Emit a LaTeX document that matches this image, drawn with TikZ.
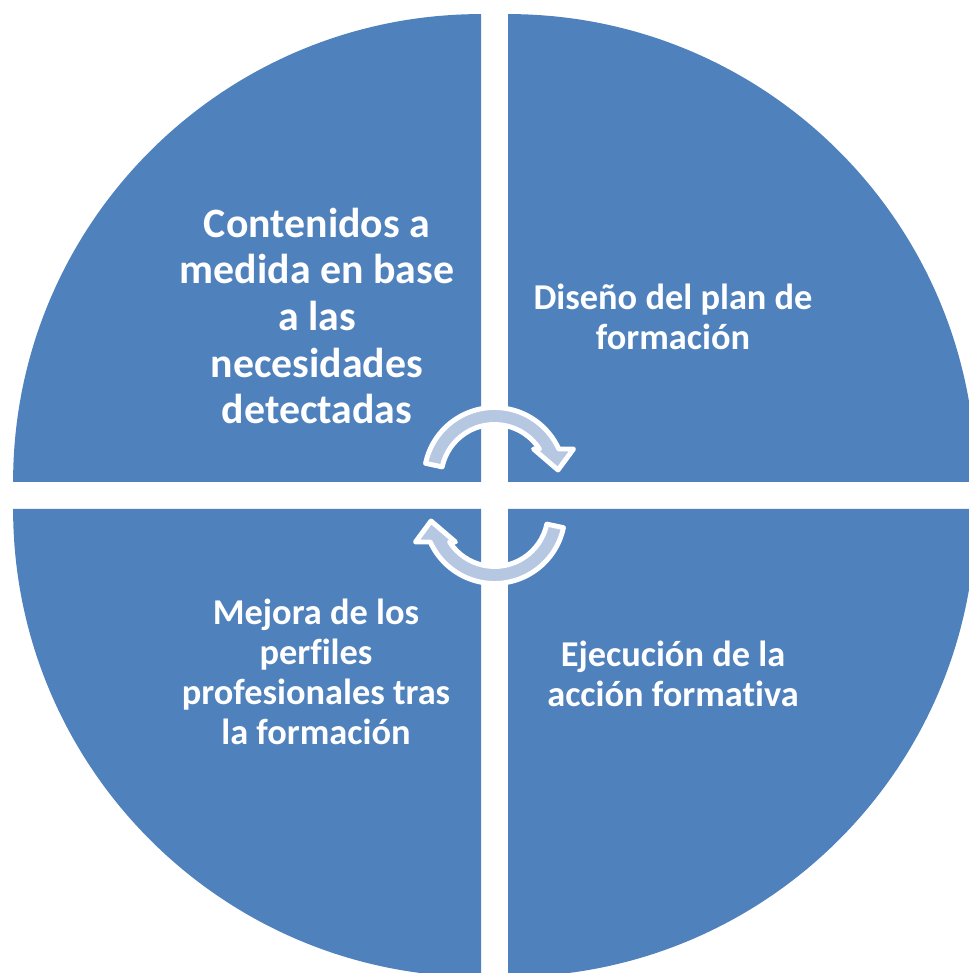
\documentclass[tikz,border=0pt]{standalone}
\usepackage{fontspec}
\setmainfont[Ligatures=CommonOff]{Carlito}
\definecolor{quadblue}{HTML}{4F81BD}
\definecolor{arrowblue}{RGB}{182,199,225}
\begin{document}
\begin{tikzpicture}[x=0.02cm, y=0.02cm,
   quad/.style={fill=quadblue},
   cyclearrow/.style={fill=arrowblue, draw=white, line width=2.8pt, line join=round},
   quadtext/.style={text=white, align=center, font=\bfseries\fontsize{20.7}{22.7}\selectfont}]
   \useasboundingbox (0,0) rectangle (969,973);
   \clip (0,0) rectangle (969,973);

   % four quarters
   \fill[quad] (481,491) -- ++(-9.36cm,0) arc[start angle=180, end angle=90, radius=9.36cm] -- cycle;
   \fill[quad] (508,491) -- ++(0,9.36cm) arc[start angle=90, end angle=0, radius=9.36cm] -- cycle;
   \fill[quad] (481,464) -- ++(0,-9.36cm) arc[start angle=270, end angle=180, radius=9.36cm] -- cycle;
   \fill[quad] (508,464) -- ++(9.36cm,0) arc[start angle=0, end angle=-90, radius=9.36cm] -- cycle;

   % the two turning arrows
   \begin{scope}[shift={(494.5,495)}]
      \filldraw[cyclearrow] (168:1.41cm) arc[start angle=168, end angle=24.3, radius=1.41cm]
         -- (79,29) -- (63.5,8) -- (39,29) -- (32.8:1.07cm)
         arc[start angle=32.8, end angle=168, radius=1.07cm] -- cycle;
   \end{scope}
   \begin{scope}[shift={(494.5,460)}, rotate=180]
      \filldraw[cyclearrow] (168:1.41cm) arc[start angle=168, end angle=24.3, radius=1.41cm]
         -- (79,29) -- (63.5,8) -- (39,29) -- (32.8:1.07cm)
         arc[start angle=32.8, end angle=168, radius=1.07cm] -- cycle;
   \end{scope}

   \node[quadtext, font=\bfseries\fontsize{23.8}{26.6}\selectfont] (contenidos) at (317,657)
      {Contenidos a\\medida en base\\a las\\necesidades\\detectadas};
   \node[quadtext] (diseno) at (673,656) {Diseño del plan de\\formación};
   \node[quadtext] (ejecucion) at (673,299) {Ejecución de la\\acción formativa};
   \node[quadtext] (mejora) at (316,301) {Mejora de los\\perfiles\\profesionales tras\\la formación};
\end{tikzpicture}
\end{document}
